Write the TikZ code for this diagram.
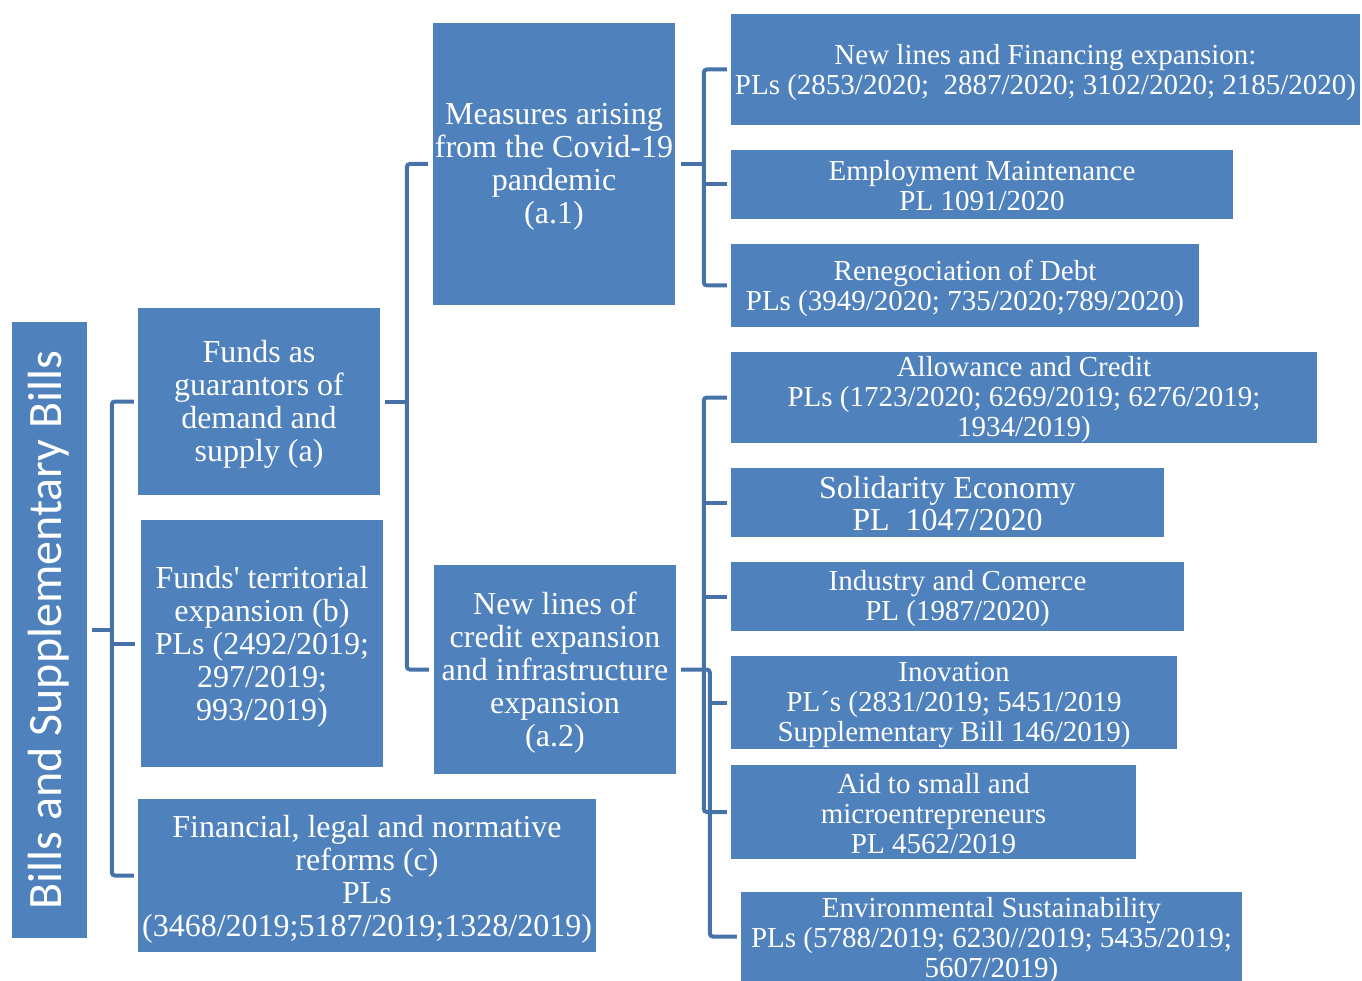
\documentclass[tikz,border=0pt]{standalone}
\usepackage{fontspec}
\setmainfont{Liberation Serif}
\newfontfamily\sanscal{Carlito}
\definecolor{boxblue}{HTML}{4F81BD}
\definecolor{linkblue}{HTML}{4672A8}
\begin{document}
\begin{tikzpicture}[x=1pt,y=-1pt,
  box/.style={fill=boxblue, inner sep=0pt},
  btxt/.style={text=white, align=center, inner sep=0pt, font=\fontsize{32}{33}\selectfont},
  stxt/.style={text=white, align=center, inner sep=0pt, font=\fontsize{29}{30}\selectfont},
  conn/.style={draw=linkblue, line width=4pt, rounded corners=3pt}]
\useasboundingbox (0,0) rectangle (1362,981);
\clip (0,0) rectangle (1362,981);
% boxes
\node[box, minimum width=75, minimum height=616] (bills) at (49.5,630) {};
\node[box, minimum width=242, minimum height=187] (fa) at (259,401.5) {};
\node[box, minimum width=242, minimum height=247] (fb) at (262,643.5) {};
\node[box, minimum width=458, minimum height=153] (fc) at (367,875.5) {};
\node[box, minimum width=242, minimum height=282] (a1) at (554,164) {};
\node[box, minimum width=242, minimum height=209] (a2) at (555,669.5) {};
\node[box, minimum width=629, minimum height=111] (nl) at (1045.5,69.5) {};
\node[box, minimum width=502, minimum height=69] (em) at (982,184.5) {};
\node[box, minimum width=468, minimum height=83] (rd) at (965,285.5) {};
\node[box, minimum width=586, minimum height=91] (al) at (1024,397.5) {};
\node[box, minimum width=433, minimum height=69] (sol) at (947.5,502.5) {};
\node[box, minimum width=453, minimum height=69] (ind) at (957.5,596.5) {};
\node[box, minimum width=446, minimum height=93] (ino) at (954,702.5) {};
\node[box, minimum width=405, minimum height=94] (aid) at (933.5,812) {};
\node[box, minimum width=501, minimum height=89] (env) at (991.5,936.5) {};
% texts
\node[rotate=90, text=white, inner sep=0pt, font=\sanscal\fontsize{48}{50}\selectfont] (billst) at ([xshift=-0.5pt]bills.center) {Bills and Supplementary Bills};
\node[btxt] (fat) at ([yshift=-3pt]fa.center) {Funds as\\guarantors of\\demand and\\supply (a)};
\node[btxt] (fbt) at ([yshift=-3pt]fb.center) {Funds\textquotesingle{} territorial\\expansion (b)\\PLs (2492/2019;\\297/2019;\\993/2019)};
\node[btxt] (fct) at ([yshift=-3.5pt]fc.center) {Financial, legal and normative\\reforms (c)\\PLs\\(3468/2019;5187/2019;1328/2019)};
\node[btxt] (a1t) at ([yshift=-3pt]a1.center) {Measures arising\\from the Covid-19\\pandemic\\(a.1)};
\node[btxt] (a2t) at ([yshift=-3pt]a2.center) {New lines of\\credit expansion\\and infrastructure\\expansion\\(a.2)};
\node[stxt] (nlt) at ([yshift=-3pt]nl.center) {New lines and Financing expansion:\\PLs (2853/2020;~ 2887/2020; 3102/2020; 2185/2020)};
\node[stxt] (emt) at ([yshift=-1.5pt]em.center) {Employment Maintenance\\PL 1091/2020};
\node[stxt] (rdt) at ([yshift=-2.5pt]rd.center) {Renegociation of Debt\\PLs (3949/2020; 735/2020;789/2020)};
\node[stxt] (alt) at ([yshift=-2.5pt]al.center) {Allowance and Credit\\PLs (1723/2020; 6269/2019; 6276/2019;\\1934/2019)};
\node[btxt, font=\fontsize{32}{32}\selectfont] (solt) at ([yshift=-1pt]sol.center) {Solidarity Economy\\PL~ 1047/2020};
\node[stxt] (indt) at ([yshift=-2.5pt]ind.center) {Industry and Comerce\\PL (1987/2020)};
\node[stxt] (inot) at ([yshift=-3pt]ino.center) {Inovation\\PL´s (2831/2019; 5451/2019\\Supplementary Bill 146/2019)};
\node[stxt] (aidt) at ([yshift=-1.5pt]aid.center) {Aid to small and\\microentrepreneurs\\PL 4562/2019};
\node[stxt] (envt) at ([yshift=-4pt]env.center) {Environmental Sustainability\\PLs (5788/2019; 6230//2019; 5435/2019;\\5607/2019)};
% connectors: left
\draw[conn] ([xshift=5]bills.east) -- ++(20,0);
\draw[conn] ([xshift=-4]fa.west) -| ([xshift=-26]fc.west) -- ([xshift=-4]fc.west);
\draw[conn] ([xshift=-29]fb.west) -- ([xshift=-6]fb.west);
% connectors: middle
\draw[conn] ([xshift=5]fa.east) -- ++(22,0);
\draw[conn] ([xshift=-5]a1.west) -| ([xshift=-27]a2.west) -- ([xshift=-5]a2.west);
% connectors: top right
\draw[conn] ([xshift=6]a1.east) -- ++(23,0);
\draw[conn] ([xshift=-4]nl.west) -| ([xshift=-27]rd.west) -- ([xshift=-4]rd.west);
\draw[conn] ([xshift=-27]em.west) -- ([xshift=-4]em.west);
% connectors: bottom right
\draw[conn] ([xshift=-4]al.west) -| ([xshift=-27]aid.west) -- ([xshift=-4]aid.west);
\draw[conn] ([xshift=-27]sol.west) -- ([xshift=-4]sol.west);
\draw[conn] ([xshift=-27]ind.west) -- ([xshift=-4]ind.west);
\draw[conn] ([xshift=5]a2.east) -| ([xshift=-31]env.west) -- ([xshift=-4]env.west);
\draw[conn] ([xshift=-21]ino.west) -- ([xshift=-4]ino.west);
\end{tikzpicture}
\end{document}
